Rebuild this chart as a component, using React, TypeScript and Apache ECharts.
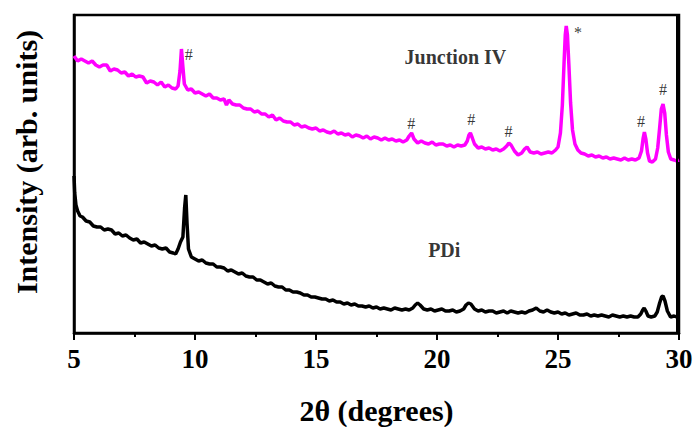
import React, { useEffect, useRef } from "react";
import * as echarts from "echarts";

// 2θ (degrees), intensity (arb. units)
const junctionIV: [number, number][] = [
  [5.0, 277], [5.15, 272], [5.3, 274], [5.45, 272], [5.6, 270], [5.75, 272], [5.9, 268], [6.05, 266],
  [6.2, 268], [6.35, 268], [6.5, 262], [6.65, 264], [6.8, 263], [6.95, 260], [7.1, 261], [7.25, 257],
  [7.4, 259], [7.55, 256], [7.7, 257], [7.85, 256], [8.0, 250], [8.15, 252], [8.3, 251], [8.45, 248],
  [8.6, 251], [8.75, 246], [8.9, 248], [9.05, 245], [9.2, 244], [9.3, 247], [9.38, 262], [9.44, 284],
  [9.5, 266], [9.56, 249], [9.7, 243], [9.85, 244], [10.0, 240], [10.15, 241], [10.3, 239], [10.45, 237],
  [10.6, 239], [10.75, 235], [10.9, 235], [11.05, 233], [11.2, 234], [11.3, 228], [11.4, 233], [11.55, 229],
  [11.7, 228], [11.85, 228], [12.0, 225], [12.15, 224], [12.3, 224], [12.45, 221], [12.6, 222], [12.75, 219],
  [12.9, 219], [13.05, 216], [13.2, 218], [13.35, 213], [13.5, 215], [13.65, 212], [13.8, 211], [13.95, 211],
  [14.1, 208], [14.25, 209], [14.4, 206], [14.55, 207], [14.7, 205], [14.85, 204], [15.0, 205], [15.15, 202],
  [15.3, 203], [15.45, 201], [15.6, 200], [15.75, 202], [15.9, 199], [16.05, 200], [16.2, 198], [16.35, 199],
  [16.5, 196], [16.65, 198], [16.8, 197], [16.95, 195], [17.1, 197], [17.25, 194], [17.4, 196], [17.55, 195],
  [17.7, 193], [17.85, 195], [18.0, 193], [18.15, 194], [18.3, 192], [18.45, 193], [18.6, 191], [18.75, 193],
  [18.85, 197], [18.95, 200], [19.05, 194], [19.2, 190], [19.35, 192], [19.5, 190], [19.65, 189], [19.8, 191],
  [19.95, 188], [20.1, 189], [20.25, 189], [20.4, 187], [20.55, 188], [20.7, 186], [20.85, 188], [21.0, 187],
  [21.15, 188], [21.25, 192], [21.32, 198], [21.38, 200], [21.46, 195], [21.55, 189], [21.7, 185], [21.85, 186],
  [22.0, 184], [22.15, 185], [22.3, 183], [22.45, 184], [22.6, 182], [22.75, 184], [22.88, 187], [22.97, 190],
  [23.06, 188], [23.2, 182], [23.35, 178], [23.5, 180], [23.62, 184], [23.72, 186], [23.85, 181], [24.0, 180],
  [24.15, 181], [24.3, 179], [24.45, 180], [24.6, 181], [24.75, 180], [24.9, 183], [25.0, 186], [25.1, 200],
  [25.18, 228], [25.25, 270], [25.3, 298], [25.34, 307], [25.39, 298], [25.45, 268], [25.52, 230], [25.6, 203],
  [25.7, 189], [25.82, 183], [25.95, 180], [26.1, 179], [26.25, 177], [26.4, 178], [26.55, 176], [26.7, 177],
  [26.85, 175], [27.0, 176], [27.15, 174], [27.3, 175], [27.45, 174], [27.6, 173], [27.75, 175], [27.9, 173],
  [28.05, 174], [28.2, 173], [28.35, 175], [28.45, 182], [28.52, 195], [28.57, 201], [28.63, 194], [28.7, 180],
  [28.78, 172], [28.9, 171], [29.03, 174], [29.12, 185], [29.2, 205], [29.27, 224], [29.34, 229], [29.41, 220],
  [29.48, 198], [29.56, 181], [29.66, 174], [29.8, 173], [29.9, 172], [30.0, 173],
];

const pdi: [number, number][] = [
  [5.0, 157], [5.03, 140], [5.08, 128], [5.15, 122], [5.25, 117], [5.35, 116], [5.5, 112], [5.65, 111],
  [5.8, 107], [5.95, 106], [6.1, 106], [6.25, 103], [6.4, 104], [6.55, 103], [6.7, 99], [6.85, 100],
  [7.0, 97], [7.15, 98], [7.3, 95], [7.45, 93], [7.6, 94], [7.75, 90], [7.9, 91], [8.05, 89],
  [8.2, 87], [8.35, 88], [8.5, 85], [8.65, 84], [8.8, 85], [8.95, 81], [9.1, 80], [9.2, 79],
  [9.3, 84], [9.4, 91], [9.5, 96], [9.57, 125], [9.62, 138], [9.67, 110], [9.73, 84], [9.85, 76],
  [10.0, 74], [10.15, 72], [10.3, 73], [10.45, 70], [10.6, 69], [10.75, 69], [10.9, 66], [11.05, 66],
  [11.2, 65], [11.35, 62], [11.5, 63], [11.65, 61], [11.8, 59], [11.95, 60], [12.1, 57], [12.25, 56],
  [12.4, 56], [12.55, 53], [12.7, 53], [12.85, 51], [13.0, 49], [13.15, 50], [13.3, 47], [13.45, 46],
  [13.6, 46], [13.75, 43], [13.9, 43], [14.05, 41], [14.2, 41], [14.35, 40], [14.5, 38], [14.65, 38],
  [14.8, 36], [14.95, 36], [15.1, 35], [15.25, 34], [15.4, 34], [15.55, 32], [15.7, 33], [15.85, 31],
  [16.0, 31], [16.15, 29], [16.3, 30], [16.45, 28], [16.6, 29], [16.75, 27], [16.9, 27], [17.05, 26],
  [17.2, 27], [17.35, 25], [17.5, 26], [17.65, 24], [17.8, 25], [17.95, 24], [18.1, 23], [18.25, 25],
  [18.4, 24], [18.55, 23], [18.7, 24], [18.85, 23], [19.0, 25], [19.1, 28], [19.2, 30], [19.3, 28],
  [19.45, 24], [19.6, 23], [19.75, 24], [19.9, 22], [20.05, 23], [20.2, 24], [20.35, 22], [20.5, 22],
  [20.65, 23], [20.8, 21], [20.95, 22], [21.1, 24], [21.2, 28], [21.3, 30], [21.4, 29], [21.55, 24],
  [21.7, 22], [21.85, 23], [22.0, 21], [22.15, 22], [22.3, 22], [22.45, 20], [22.6, 21], [22.75, 22],
  [22.9, 20], [23.05, 22], [23.2, 21], [23.35, 20], [23.5, 21], [23.65, 20], [23.8, 22], [23.95, 23],
  [24.1, 25], [24.25, 22], [24.4, 21], [24.55, 23], [24.7, 21], [24.85, 20], [25.0, 21], [25.15, 19],
  [25.3, 20], [25.45, 18], [25.6, 19], [25.75, 20], [25.9, 18], [26.05, 18], [26.2, 19], [26.35, 17],
  [26.5, 18], [26.65, 17], [26.8, 18], [26.95, 17], [27.1, 16], [27.25, 18], [27.4, 17], [27.55, 16],
  [27.7, 17], [27.85, 16], [28.0, 17], [28.15, 16], [28.3, 16], [28.42, 19], [28.5, 23], [28.56, 25],
  [28.63, 22], [28.72, 17], [28.85, 16], [29.0, 17], [29.1, 21], [29.2, 30], [29.28, 36], [29.34, 37],
  [29.42, 32], [29.52, 22], [29.65, 16], [29.8, 17], [29.9, 16], [30.0, 17],
];

// peak markers: [2θ, intensity, text]
const peakMarks: [number, number, string][] = [
  [9.74, 279, "#"],
  [18.94, 210, "#"],
  [21.42, 214, "#"],
  [22.95, 202, "#"],
  [25.83, 301, "*"],
  [28.43, 212, "#"],
  [29.34, 244, "#"],
];

// sample labels: [2θ, intensity, text]
const sampleLabels: [number, number, string][] = [
  [20.76, 276, "Junction IV"],
  [20.3, 83, "PDi"],
];

const xTicks = [5, 10, 15, 20, 25, 30];
const Y_MAX = 318;

const SERIF = "'Liberation Serif', 'Times New Roman', serif";
const GRID = { left: 74, right: 17, top: 15, bottom: 94 };
const W = 696;
const H = 427;
const X_MIN = xTicks[0];
const X_MAX = xTicks[xTicks.length - 1];

export default function App() {
  const ref = useRef<HTMLDivElement>(null);
  useEffect(() => {
    if (!ref.current) return;
    const chart = echarts.init(ref.current, null, { renderer: "svg" });
    chart.setOption({
      animation: false,
      grid: {
        ...GRID,
        outerBoundsMode: "none",
        show: true,
        borderColor: "#000",
        borderWidth: 2.5,
      },
      xAxis: {
        type: "value",
        min: X_MIN,
        max: X_MAX,
        interval: 5,
        name: "2θ (degrees)",
        nameLocation: "middle",
        nameGap: 62,
        nameTextStyle: { fontFamily: SERIF, fontWeight: "bold", fontSize: 30, color: "#000" },
        axisLine: { show: true, onZero: false, lineStyle: { color: "#000", width: 2.5 } },
        axisTick: { show: true, inside: false, length: 7, lineStyle: { color: "#000", width: 2 } },
        minorTick: { show: true, splitNumber: 2, length: 4, lineStyle: { color: "#000", width: 2 } },
        axisLabel: { fontFamily: SERIF, fontWeight: "bold", fontSize: 27, color: "#000", margin: 12 },
        splitLine: { show: false },
      },
      yAxis: {
        type: "value",
        min: 0,
        max: Y_MAX,
        axisLine: { show: true, onZero: false, lineStyle: { color: "#000", width: 2.5 } },
        axisTick: { show: false },
        axisLabel: { show: false },
        splitLine: { show: false },
      },
      graphic: [
        {
          type: "text",
          x: 26,
          y: 162,
          rotation: Math.PI / 2,
          style: {
            text: "Intensity (arb. units)",
            fontFamily: SERIF,
            fontWeight: "bold",
            fontSize: 30,
            fill: "#000",
            textAlign: "center",
            textVerticalAlign: "middle",
          },
        },
      ],
      series: [
        {
          name: "Junction IV",
          type: "line",
          data: junctionIV,
          showSymbol: false,
          lineStyle: { color: "#ff00ff", width: 3.5 },
          itemStyle: { color: "#ff00ff" },
        },
        {
          name: "PDi",
          type: "line",
          data: pdi,
          showSymbol: false,
          lineStyle: { color: "#000", width: 3.5 },
          itemStyle: { color: "#000" },
        },
        {
          name: "marks",
          type: "scatter",
          symbolSize: 0,
          silent: true,
          data: peakMarks.map((m) => ({ value: [m[0], m[1]], name: m[2] })),
          label: {
            show: true,
            position: "inside",
            formatter: (p: any) => p.name,
            fontFamily: SERIF,
            fontSize: 16,
            color: "#000",
          },
        },
        {
          name: "samples",
          type: "scatter",
          symbolSize: 0,
          silent: true,
          data: sampleLabels.map((m) => ({ value: [m[0], m[1]], name: m[2] })),
          label: {
            show: true,
            position: "inside",
            formatter: (p: any) => p.name,
            fontFamily: SERIF,
            fontWeight: "bold",
            fontSize: 20,
            color: "#000",
          },
        },
      ],
    });
    return () => chart.dispose();
  }, []);
  return (
    <div style={{ position: "fixed", left: 0, top: 0, width: W, height: H, background: "#fff" }}>
      <div ref={ref} style={{ position: "absolute", left: 0, top: 0, width: W, height: H }} />
      <div
        style={{
          position: "absolute",
          left: GRID.left - 1,
          top: GRID.top - 1,
          width: W - GRID.left - GRID.right,
          height: H - GRID.top - GRID.bottom,
          borderTop: "2.5px solid #000",
          borderRight: "2.5px solid #000",
          boxSizing: "border-box",
          pointerEvents: "none",
        }}
      />
    </div>
  );
}
